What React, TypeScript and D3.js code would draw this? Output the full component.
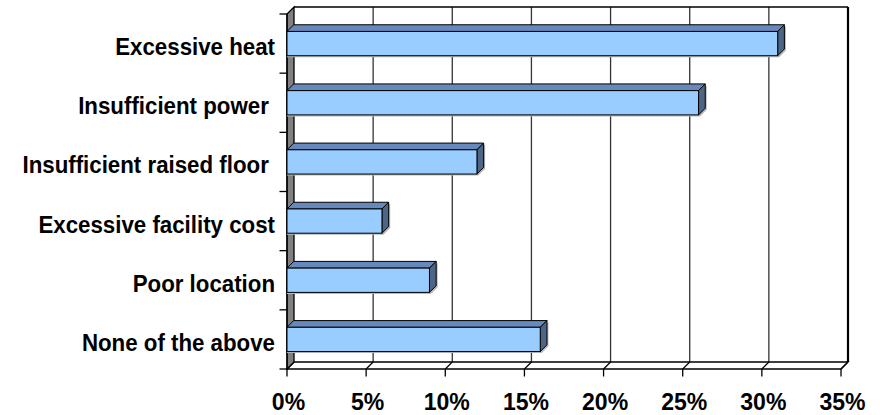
import React from "react";
import * as d3 from "d3";

const categories = [
  "Excessive heat",
  "Insufficient power ",
  "Insufficient raised floor ",
  "Excessive facility cost",
  "Poor location",
  "None of the above",
];
const values = [31, 26, 12, 6, 9, 16];
const xTicks = [0, 5, 10, 15, 20, 25, 30, 35];
const tickLabels = ["0%", "5%", "10%", "15%", "20%", "25%", "30%", "35%"];

const W = 880;
const H = 415;
const D = 7; // depth offset
const BD = 6.7; // bar depth

export default function App() {
  const x = d3.scaleLinear().domain([0, 35]).range([287, 841]);
  const yBand = d3.scaleBand<string>().domain(categories).range([14, 369]);
  const y = d3
    .scaleBand<string>()
    .domain(categories)
    .range([14, 369])
    .paddingInner(0.59)
    .paddingOuter(0.295);

  const x0 = x(0);
  const x1 = x(35);
  const yTop = 14;
  const yBot = 369;
  const font = "'Liberation Sans', Arial, sans-serif";
  const sx = 0.91;

  const boundaries = categories.map((c) => yBand(c) as number).concat([yBot]);

  return (
    <svg
      width={W}
      height={H}
      style={{ position: "absolute", left: 0, top: 0, background: "#fff" }}
    >
      {/* back wall */}
      <rect x={x0 + D} y={yTop - D} width={x1 - x0} height={yBot - yTop} fill="#fff" />
      {/* gridlines on back wall */}
      {xTicks.slice(1).map((t) => (
        <line
          key={"g" + t}
          x1={x(t) + D}
          x2={x(t) + D}
          y1={yTop - D}
          y2={yBot - D}
          stroke="#333"
          strokeWidth={1.3}
        />
      ))}
      {/* top border of back wall */}
      <line x1={x0 + D} x2={x1 + D} y1={yTop - D} y2={yTop - D} stroke="#000" strokeWidth={1.3} />
      <line x1={x1 + D} x2={x1 + D} y1={yTop - D} y2={yBot - D} stroke="#000" strokeWidth={2.2} />
      {/* floor */}
      <polygon
        points={`${x0},${yBot} ${x0 + D},${yBot - D} ${x1 + D},${yBot - D} ${x1},${yBot}`}
        fill="#fff"
        stroke="#000"
        strokeWidth={1.3}
      />
      {xTicks.map((t) => (
        <line
          key={"f" + t}
          x1={x(t)}
          x2={x(t) + D}
          y1={yBot}
          y2={yBot - D}
          stroke="#000"
          strokeWidth={1.2}
        />
      ))}
      {/* left side wall */}
      <polygon
        points={`${x0},${yTop} ${x0 + D},${yTop - D} ${x0 + D},${yBot - D} ${x0},${yBot}`}
        fill="#808080"
        stroke="#000"
        strokeWidth={1.3}
      />
      {/* bottom ticks */}
      {xTicks.map((t) => (
        <line key={"t" + t} x1={x(t)} x2={x(t)} y1={yBot} y2={yBot + 7.5} stroke="#000" strokeWidth={1.3} />
      ))}
      {/* left ticks */}
      {boundaries.map((b, i) => (
        <line key={"l" + i} x1={x0 - 7.5} x2={x0} y1={b} y2={b} stroke="#000" strokeWidth={1.3} />
      ))}
      <line x1={x0} x2={x0} y1={yTop} y2={yBot} stroke="#000" strokeWidth={1.3} />

      {/* bars */}
      {categories.map((c, i) => {
        const bx0 = x0;
        const bx1 = x(values[i]);
        const by0 = y(c) as number;
        const by1 = by0 + y.bandwidth();
        return (
          <g key={"b" + i}>
            <polygon
              points={`${bx0},${by1 + 1.5} ${bx1 + 1.5},${by1 + 1.5} ${bx1 + BD + 1.5},${by1 - BD + 1.5} ${bx1 + BD + 1.5},${by0 - BD + 1.5} ${bx1},${by0} ${bx0},${by0}`}
              fill="#b8b8b8"
            />
            <polygon
              points={`${bx0},${by0} ${bx1},${by0} ${bx1 + BD},${by0 - BD} ${bx0 + BD},${by0 - BD}`}
              fill="#6688bb"
              stroke="#000"
              strokeWidth={1}
              strokeLinejoin="round"
            />
            <polygon
              points={`${bx1},${by0} ${bx1 + BD},${by0 - BD} ${bx1 + BD},${by1 - BD} ${bx1},${by1}`}
              fill="#4d6685"
              stroke="#000"
              strokeWidth={1}
              strokeLinejoin="round"
            />
            <rect
              x={bx0}
              y={by0}
              width={bx1 - bx0}
              height={by1 - by0}
              fill="#99ccff"
              stroke="#000"
              strokeWidth={1}
            />
          </g>
        );
      })}

      {/* category labels */}
      {categories.map((c, i) => {
        const cy = (yBand(c) as number) + yBand.bandwidth() / 2;
        return (
          <text
            key={"c" + i}
            transform={`translate(275,${cy + 11.5}) scale(${sx},1)`}
            textAnchor="end"
            fontFamily={font}
            fontWeight="bold"
            fontSize={24.5}
            fill="#000"
            style={{ whiteSpace: "pre" }}
          >
            {c}
          </text>
        );
      })}

      {/* x tick labels */}
      {xTicks.map((t, i) => (
        <text
          key={"x" + t}
          transform={`translate(${x(t) + 1.5},409.5) scale(0.96,1)`}
          textAnchor="middle"
          fontFamily={font}
          fontWeight="bold"
          fontSize={24}
          fill="#000"
        >
          {tickLabels[i]}
        </text>
      ))}
    </svg>
  );
}
